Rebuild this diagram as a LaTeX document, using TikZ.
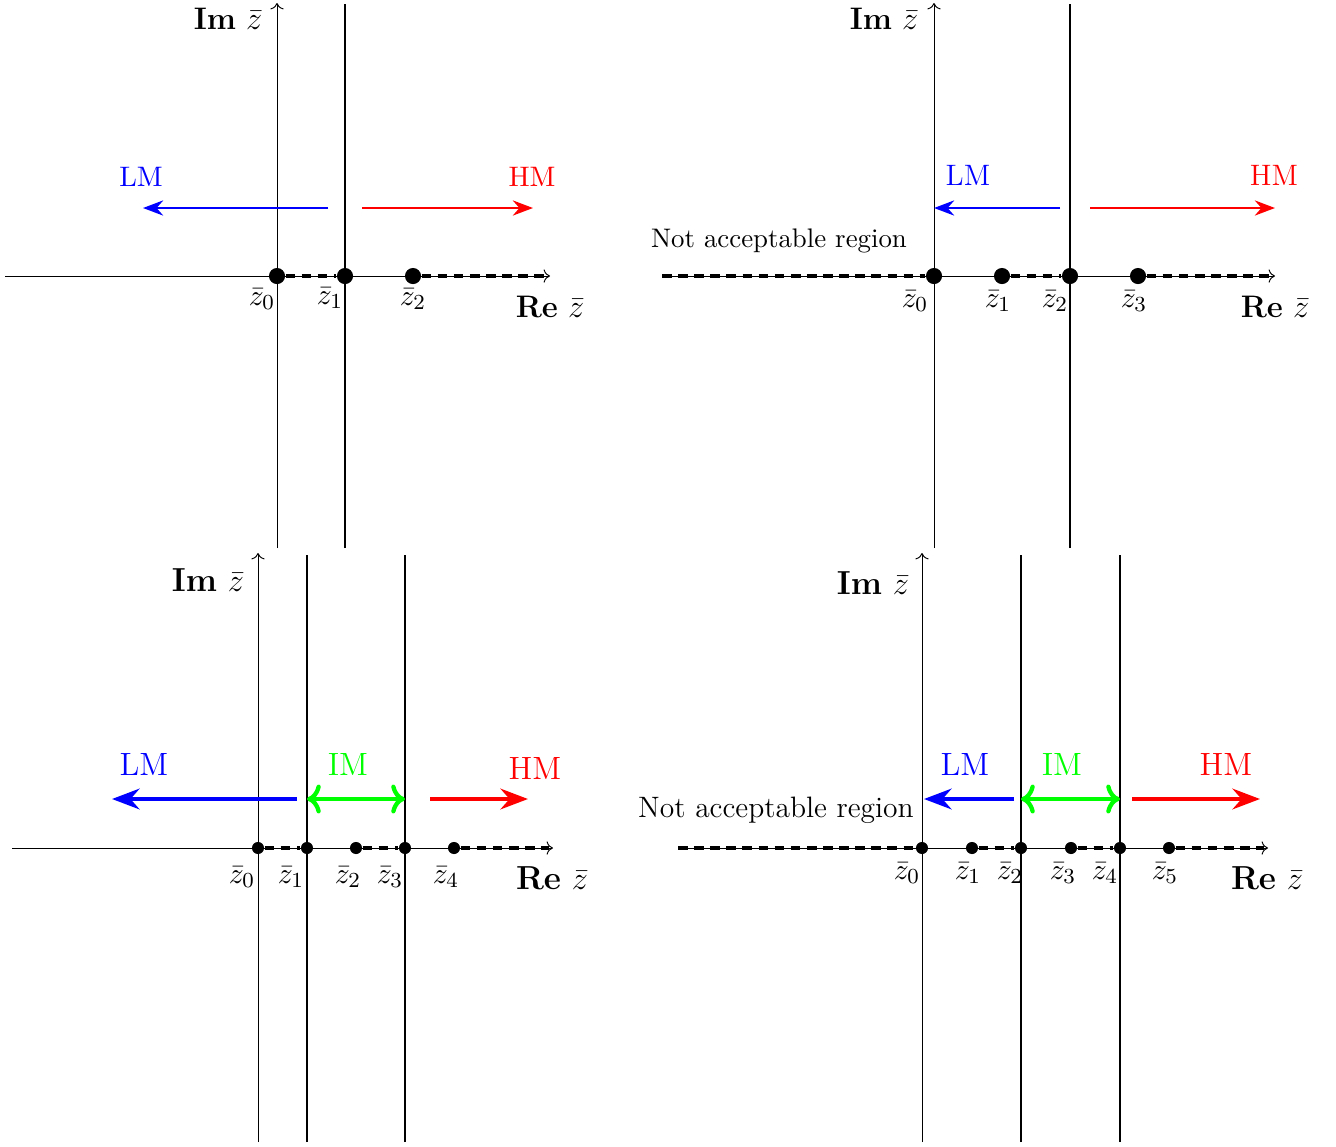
\documentclass[tikz,border=0pt]{standalone}
\usetikzlibrary{arrows.meta}

\tikzset{
  axisline/.style={->, line width=0.35pt},
  wall/.style={line width=1pt},
  cut/.style={line width=1.5pt, dash pattern=on 3.6pt off 2.4pt},
  zdot/.style={circle, fill, inner sep=0pt, minimum size=#1},
  zdot/.default=6pt,
  modearrow/.style={line width=#1, -{Stealth}},
  modearrow/.default=1pt,
  sized/.style={font=\fontsize{#1}{#1}\selectfont},
}

\begin{document}
\begin{tikzpicture}[x=0.013089cm, y=-0.013089cm]

  \useasboundingbox (0,0) rectangle (1336,1147);

  % Top left panel
  \coordinate (a-w) at (5,276);
  \coordinate (a-e) at (550,276);
  \coordinate (a-e-cut) at (546,276);
  \coordinate (a-s) at (277,548);
  \coordinate (a-n) at (277,3);
  \coordinate (a-wall-n) at (345,4);
  \coordinate (a-wall-s) at (345,548);

  \node[zdot] (a-z0) at (277,276) {};
  \node[zdot] (a-z1) at (345,276) {};
  \node[zdot] (a-z2) at (413,276) {};

  \node[sized=11.4] (a-l0) at (262,299) {$\bar{z}_0$};
  \node[sized=11.4] (a-l1) at (330,298) {$\bar{z}_1$};
  \node[sized=11.4] (a-l2) at (413,299) {$\bar{z}_2$};
  \node[sized=11.6] (a-re) at (550,307) {\textbf{Re} $\bar{z}$};
  \node[sized=11.6] (a-im) at (228,19)  {\textbf{Im} $\bar{z}$};

  \coordinate (a-lm-s) at (328,208);
  \coordinate (a-lm-e) at (143,208);
  \coordinate (a-hm-s) at (362,208);
  \coordinate (a-hm-e) at (533,208);
  \node[sized=10.5, blue] (a-lm) at (141,177) {LM};
  \node[sized=10.5, red]  (a-hm) at (532,177) {HM};

  \draw[axisline] (a-w) -- (a-e);
  \draw[axisline] (a-s) -- (a-n);
  \draw[wall] (a-wall-s) -- (a-wall-n);
  \draw[cut] (a-z0) -- (a-z1);
  \draw[cut] (a-z2) -- (a-e-cut);
  \draw[modearrow, blue] (a-lm-s) -- (a-lm-e);
  \draw[modearrow, red] (a-hm-s) -- (a-hm-e);

  % Top right panel
  \coordinate (b-w) at (662,276);
  \coordinate (b-e) at (1275,276);
  \coordinate (b-e-cut) at (1271,276);
  \coordinate (b-s) at (934,548);
  \coordinate (b-n) at (934,3);
  \coordinate (b-wall-n) at (1070,4);
  \coordinate (b-wall-s) at (1070,548);

  \node[zdot] (b-z0) at (934,276) {};
  \node[zdot] (b-z1) at (1002,276) {};
  \node[zdot] (b-z2) at (1070,276) {};
  \node[zdot] (b-z3) at (1138,276) {};

  \node[sized=11.4] (b-l0) at (915,301)  {$\bar{z}_0$};
  \node[sized=11.4] (b-l1) at (998,301)  {$\bar{z}_1$};
  \node[sized=11.4] (b-l2) at (1055,301) {$\bar{z}_2$};
  \node[sized=11.4] (b-l3) at (1134,301) {$\bar{z}_3$};
  \node[sized=11.6] (b-re) at (1275,307) {\textbf{Re} $\bar{z}$};
  \node[sized=11.6] (b-im) at (884,19)   {\textbf{Im} $\bar{z}$};
  \node (b-na) at (779,241)  {Not acceptable region};

  \coordinate (b-lm-s) at (1060,208);
  \coordinate (b-lm-e) at (934,208);
  \coordinate (b-hm-s) at (1090,208);
  \coordinate (b-hm-e) at (1275,208);
  \node[sized=11, blue] (b-lm) at (968,175)  {LM};
  \node[sized=11, red]  (b-hm) at (1274,175) {HM};

  \draw[axisline] (b-w) -- (b-e);
  \draw[axisline] (b-s) -- (b-n);
  \draw[wall] (b-wall-s) -- (b-wall-n);
  \draw[cut] (b-w) -- (b-z0);
  \draw[cut] (b-z1) -- (b-z2);
  \draw[cut] (b-z3) -- (b-e-cut);
  \draw[modearrow, blue] (b-lm-s) -- (b-lm-e);
  \draw[modearrow, red] (b-hm-s) -- (b-hm-e);

  \begin{scope}[sized=11]

  % Bottom left panel
  \coordinate (c-w) at (12,848);
  \coordinate (c-e) at (553,848);
  \coordinate (c-e-cut) at (549,848);
  \coordinate (c-s) at (258,1142);
  \coordinate (c-n) at (258,553);
  \coordinate (c-wall1-n) at (307,555);
  \coordinate (c-wall1-s) at (307,1142);
  \coordinate (c-wall2-n) at (405,555);
  \coordinate (c-wall2-s) at (405,1142);

  \node[zdot=4.5pt] (c-z0) at (258,848) {};
  \node[zdot=4.5pt] (c-z1) at (307,848) {};
  \node[zdot=4.5pt] (c-z2) at (356,848) {};
  \node[zdot=4.5pt] (c-z3) at (405,848) {};
  \node[zdot=4.5pt] (c-z4) at (454,848) {};

  \node (c-l0) at (242,877) {$\bar{z}_0$};
  \node (c-l1) at (291,877) {$\bar{z}_1$};
  \node (c-l2) at (348,877) {$\bar{z}_2$};
  \node (c-l3) at (390,877) {$\bar{z}_3$};
  \node (c-l4) at (446,877) {$\bar{z}_4$};
  \node[sized=12.4] (c-re) at (552,878) {\textbf{Re} $\bar{z}$};
  \node[sized=12.4] (c-im) at (208,580) {\textbf{Im} $\bar{z}$};

  \coordinate (c-lm-s) at (297,799);
  \coordinate (c-lm-e) at (112,799);
  \coordinate (c-im-w) at (307,799);
  \coordinate (c-im-e) at (405,799);
  \coordinate (c-hm-s) at (430,799);
  \coordinate (c-hm-e) at (528,799);
  \node[sized=12, blue]  (c-lm) at (144,764) {LM};
  \node[sized=12, green] (c-mm) at (348,764) {IM};
  \node[sized=12, red]   (c-hm) at (535,768) {HM};

  \draw[axisline] (c-w) -- (c-e);
  \draw[axisline] (c-s) -- (c-n);
  \draw[wall] (c-wall1-s) -- (c-wall1-n);
  \draw[wall] (c-wall2-s) -- (c-wall2-n);
  \draw[cut] (c-z0) -- (c-z1);
  \draw[cut] (c-z2) -- (c-z3);
  \draw[cut] (c-z4) -- (c-e-cut);
  \draw[modearrow=1.6pt, blue] (c-lm-s) -- (c-lm-e);
  \draw[green, line width=1.6pt, <->] (c-im-w) -- (c-im-e);
  \draw[modearrow=1.6pt, red] (c-hm-s) -- (c-hm-e);

  % Bottom right panel
  \coordinate (d-w) at (678,848);
  \coordinate (d-e) at (1268,848);
  \coordinate (d-e-cut) at (1264,848);
  \coordinate (d-s) at (922,1142);
  \coordinate (d-n) at (922,553);
  \coordinate (d-wall1-n) at (1021,555);
  \coordinate (d-wall1-s) at (1021,1142);
  \coordinate (d-wall2-n) at (1120,555);
  \coordinate (d-wall2-s) at (1120,1142);

  \node[zdot=4.5pt] (d-z0) at (922,848) {};
  \node[zdot=4.5pt] (d-z1) at (972,848) {};
  \node[zdot=4.5pt] (d-z2) at (1021,848) {};
  \node[zdot=4.5pt] (d-z3) at (1071,848) {};
  \node[zdot=4.5pt] (d-z4) at (1120,848) {};
  \node[zdot=4.5pt] (d-z5) at (1169,848) {};

  \node (d-l0) at (907,873)  {$\bar{z}_0$};
  \node (d-l1) at (968,873)  {$\bar{z}_1$};
  \node (d-l2) at (1010,873) {$\bar{z}_2$};
  \node (d-l3) at (1063,873) {$\bar{z}_3$};
  \node (d-l4) at (1105,873) {$\bar{z}_4$};
  \node (d-l5) at (1165,873) {$\bar{z}_5$};
  \node[sized=12.4] (d-re) at (1267,878) {\textbf{Re} $\bar{z}$};
  \node[sized=12.4] (d-im) at (873,583)  {\textbf{Im} $\bar{z}$};
  \node (d-na) at (776,810)  {Not acceptable region};

  \coordinate (d-lm-s) at (1014,799);
  \coordinate (d-lm-e) at (924,799);
  \coordinate (d-im-w) at (1021,799);
  \coordinate (d-im-e) at (1120,799);
  \coordinate (d-hm-s) at (1132,799);
  \coordinate (d-hm-e) at (1260,799);
  \node[sized=12, blue]  (d-lm) at (965,764)  {LM};
  \node[sized=12, green] (d-mm) at (1062,764) {IM};
  \node[sized=12, red]   (d-hm) at (1226,764) {HM};

  \draw[axisline] (d-w) -- (d-e);
  \draw[axisline] (d-s) -- (d-n);
  \draw[wall] (d-wall1-s) -- (d-wall1-n);
  \draw[wall] (d-wall2-s) -- (d-wall2-n);
  \draw[cut] (d-w) -- (d-z0);
  \draw[cut] (d-z1) -- (d-z2);
  \draw[cut] (d-z3) -- (d-z4);
  \draw[cut] (d-z5) -- (d-e-cut);
  \draw[modearrow=1.6pt, blue] (d-lm-s) -- (d-lm-e);
  \draw[green, line width=1.6pt, <->] (d-im-w) -- (d-im-e);
  \draw[modearrow=1.6pt, red] (d-hm-s) -- (d-hm-e);

  \end{scope}

\end{tikzpicture}
\end{document}
